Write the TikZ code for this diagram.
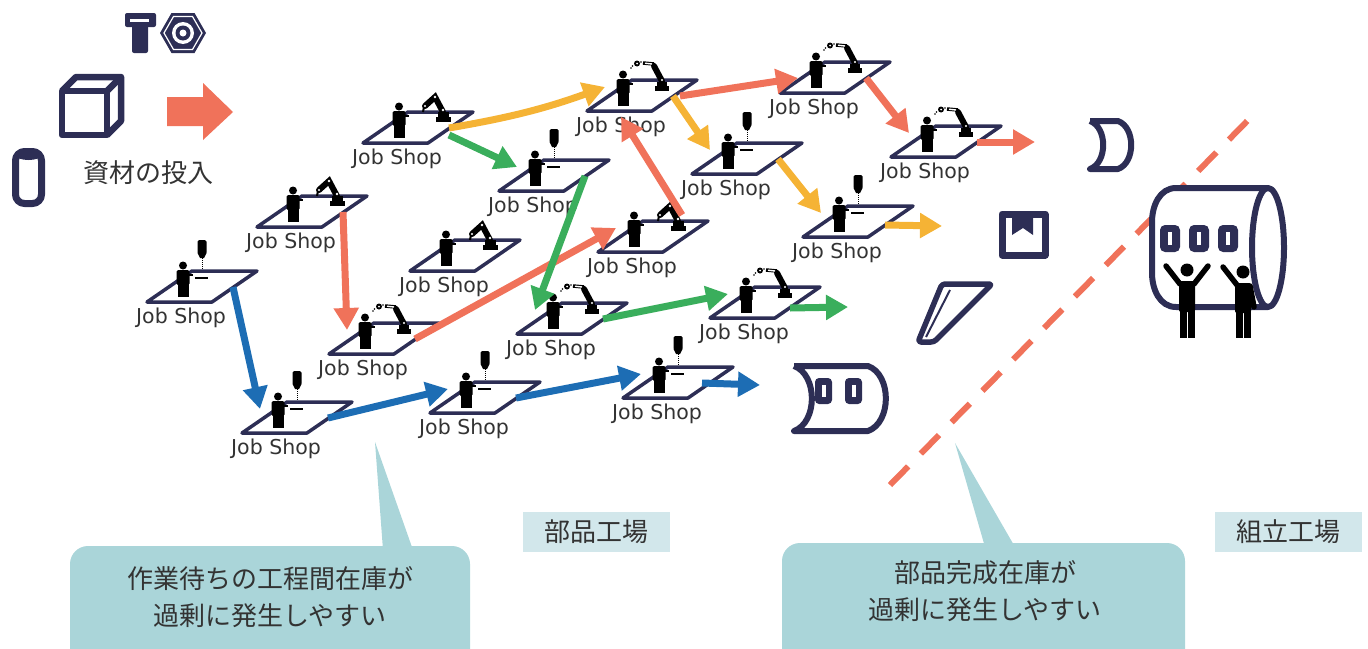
\documentclass[tikz,border=0pt]{standalone}
\usepackage{fontspec}
\setmainfont{DejaVu Sans}
\newfontfamily\jpfont{Noto Sans CJK JP}
\usetikzlibrary{arrows.meta,calc}

\definecolor{navy}{HTML}{2D2E55}
\definecolor{salmon}{HTML}{F0725A}
\definecolor{amber}{HTML}{F5B335}
\definecolor{leaf}{HTML}{3AAE5C}
\definecolor{ocean}{HTML}{1D6DB4}
\definecolor{teal}{HTML}{AAD5D9}
\definecolor{mist}{HTML}{D2E7EB}
\definecolor{ink}{HTML}{333333}

\tikzset{
  flow/.style={line width=7pt, -{Triangle[length=22pt,width=24pt]}},
  plat/.style={draw=navy, line width=3.5pt, line join=round},
  icon/.style={draw=navy, line width=6pt, line join=round},
  shoplabel/.style={font=\fontsize{20.5}{22}\selectfont, text=ink, inner sep=0pt},
  jp/.style={font=\jpfont\fontsize{26}{37}\selectfont, text=ink},
  % little worker standing on a platform
  worker/.pic={
    \fill (36,-36.5) circle (4pt);
    \fill[rounded corners=1.5pt] (29.5,-32) rectangle (42.5,-17);
    \fill (30.5,-18) rectangle (35.6,-5);
    \fill (36.4,-18) rectangle (41.5,-5);
    \fill (42,-28) rectangle (46,-26);
  },
  % spindle of a drilling machine
  drill/.pic={
    \fill[rounded corners=1.5pt] (50.5,-62) rectangle (59.5,-48);
    \fill (50.5,-49) -- (59.5,-49) -- (57,-44) -- (53,-44) -- cycle;
    \draw[line width=1pt, dash pattern=on 1pt off 1pt] (55,-44) -- (55,-32);
    \draw[line width=1.5pt] (48,-24) -- (61,-24);
  },
  % folded robot arm
  arma/.pic={
    \fill (73,-21) rectangle (88,-26);
    \fill (75,-26) rectangle (86,-31);
    \draw[line width=6pt, line cap=round] (80,-31) -- (72,-46) -- (62,-37);
    \fill[white] (80,-33) circle (1.3pt) (72,-46) circle (1.3pt) (62,-37) circle (1.1pt);
    \draw[line width=2pt] (61,-36) -- (60,-31);
  },
  % stretched robot arm with gripper
  armb/.pic={
    \fill (68,-20) rectangle (82,-25);
    \fill (70,-25) rectangle (80,-29);
    \draw[line width=6pt, line cap=round] (75,-30) -- (67,-45);
    \fill[white] (75,-31) circle (1.2pt);
    \draw[line width=3.5pt] (67,-47) -- (56,-48);
    \draw[white, line width=1.4pt] (65,-47) -- (58,-47.8);
    \fill (50,-47.5) circle (3pt);
    \fill[white] (50,-47.5) circle (1pt);
    \fill (45.5,-45) circle (0.9pt) (44,-43) circle (0.9pt) (54,-49) circle (0.9pt);
  },
  shop/.pic={
    \draw[plat] (0,0) -- (65,0) -- (110,-31) -- (45,-31) -- cycle;
    \pic {worker};
    \pic {#1};
    \coordinate (-out) at (86,-15);
    \coordinate (-in) at (18,-24);
    \coordinate (-top) at (84,-37);
    \node[shoplabel] (-lbl) at (34,16) {Job Shop};
  },
}

\begin{document}
\begin{tikzpicture}[x=1pt, y=-1pt]
  \useasboundingbox (0,0) rectangle (1368,648);

  % materials: bolt, nut, cube, cylinder
  \fill[navy, rounded corners=2pt] (125,13) rectangle (156,27);
  \fill[white] (130,19) rectangle (149,22);
  \fill[navy, rounded corners=2pt] (132,25) rectangle (148,53);
  \fill[navy] (160,33) -- (171.5,13) -- (194.5,13) -- (206,33) -- (194.5,53) -- (171.5,53) -- cycle;
  \draw[white, line width=1.2pt] (164,33) -- (173.5,16.5) -- (192.5,16.5) -- (202,33) -- (192.5,49.5) -- (173.5,49.5) -- cycle;
  \fill[white] (183,33) circle (11pt);
  \fill[navy] (183,33) circle (7.5pt);
  \fill[white] (183,33) circle (3.5pt);
  \draw[icon, line width=6.5pt] (62,91) rectangle (107,135);
  \draw[icon, line width=6.5pt] (62,91) -- (76,77) -- (121,77) -- (121,121) -- (107,135);
  \draw[icon, line width=6.5pt] (121,77) -- (107,91);
  \draw[icon, line width=7pt, rounded corners=9pt] (15.5,151.5) rectangle (41.5,203.5);
  \fill[navy] (28.5,155) ellipse (13pt and 5pt);

  % feeding arrow
  \fill[salmon] (167,97) -- (203,97) -- (203,83) -- (233,112) -- (203,140) -- (203,126) -- (167,126) -- cycle;
  \node[jp] (feed) at (148,173) {資材の投入};

  % job shops
  \pic (sA) at (363,143) {shop=arma};
  \pic (s2) at (499,191) {shop=drill};
  \pic (s3) at (587,111) {shop=armb};
  \pic (s4) at (780,93) {shop=armb};
  \pic (s5) at (692,174) {shop=drill};
  \pic (s6) at (891,157) {shop=armb};
  \pic (s7) at (803,237) {shop=drill};
  \pic (s8) at (257,227) {shop=arma};
  \pic (s9) at (410,271) {shop=arma};
  \pic (s10) at (598,252) {shop=arma};
  \pic (s11) at (147,302) {shop=drill};
  \pic (s12) at (329,354) {shop=armb};
  \pic (s13) at (517,334) {shop=armb};
  \pic (s14) at (710,318) {shop=armb};
  \pic (s15) at (242,433) {shop=drill};
  \pic (s16) at (430,413) {shop=drill};
  \pic (s17) at (623,398) {shop=drill};

  % routes between shops
  \coordinate (amberend) at (942,226);
  \coordinate (salmonend) at (1035,142);
  \coordinate (leafend) at (848,307);
  \coordinate (oceanend) at (760,385);

  \draw[flow, amber] (sA-out) to[bend right=5] (s3-in);
  \draw[flow, amber] (s3-out) -- (s5-in);
  \draw[flow, amber] (s5-out) -- (s7-in);
  \draw[flow, amber] ([xshift=-4pt, yshift=-3pt]s7-out) -- (amberend);

  \draw[flow, salmon] (s8-out) -- (s12-in);
  \draw[flow, salmon] (s12-out) -- (s10-in);
  \draw[flow, salmon] (s10-top) -- (s3-lbl.north);
  \draw[flow, salmon] ([xshift=7pt]s3-out) -- ([yshift=-9pt]s4-in);
  \draw[flow, salmon] (s4-out) -- (s6-in);
  \draw[flow, salmon] (s6-out) -- (salmonend);

  \draw[flow, leaf] ([yshift=-7pt]sA-out) -- (s2-in);
  \draw[flow, leaf] (s2-out) -- (s13-in);
  \draw[flow, leaf] (s13-out) -- (s14-in);
  \draw[flow, leaf] ([xshift=-6pt, yshift=-5pt]s14-out) -- (leafend);

  \draw[flow, ocean] (s11-out) -- (s15-in);
  \draw[flow, ocean] (s15-out) -- (s16-in);
  \draw[flow, ocean] (s16-out) -- (s17-in);
  \draw[flow, ocean] ([xshift=-7pt]s17-out) -- (oceanend);

  % finished parts
  \draw[icon] (1090,121) -- (1118,121) to[out=-20,in=20] (1118,169) -- (1090,169) to[out=20,in=-20] (1090,121);
  \draw[icon, line width=7pt] (1002,214) rectangle (1045,255);
  \fill[navy] (1012,214) -- (1033,214) -- (1033,235) -- (1023,228) -- (1012,235) -- cycle;
  \draw[icon, line width=5.5pt, rounded corners=3pt] (942,284) -- (992,284) -- (934,342) -- (918,342) -- cycle;
  \draw[navy, line width=2pt] (950,290) -- (926,337);
  \draw[icon] (794,366) -- (868,366) to[out=-20,in=20] (868,431) -- (794,431) to[out=20,in=-20] (794,366);
  \foreach \wx in {815,845} {
    \fill[navy, rounded corners=4pt] (\wx,378) rectangle ++(17,26);
    \fill[white] (\wx+6.5,385) rectangle ++(4,12);
  }

  % border between the two factories
  \draw[salmon, line width=6pt, dash pattern=on 26pt off 18pt] (890,485) -- (1258,110);

  % assembly: fuselage and workers
  \draw[icon, fill=white] (1268,188) -- (1176,188) to[out=180,in=90] (1152,222) -- (1152,273) to[out=-90,in=180] (1176,307) -- (1268,307);
  \draw[icon, fill=white] (1268,247.5) ellipse (16pt and 59.5pt);
  \foreach \wx in {1160,1189,1218} {
    \fill[navy, rounded corners=5pt] (\wx,225) rectangle ++(20,27);
    \fill[white] (\wx+8,232) rectangle ++(4,13);
  }
  \fill (1187,270) circle (6.5pt);
  \draw[line width=5.5pt, line cap=round, line join=round] (1166,266) -- (1180,284) -- (1194,284) -- (1208,266);
  \fill[rounded corners=2pt] (1179,281) rectangle (1195,312);
  \fill (1179.5,310) rectangle (1186.5,338);
  \fill (1188,310) rectangle (1194.5,338);
  \fill (1243,272) circle (6.5pt);
  \draw[line width=5.5pt, line cap=round, line join=round] (1223,267) -- (1237,285);
  \draw[line width=5.5pt, line cap=round] (1250,286) -- (1254,307);
  \fill[rounded corners=2pt] (1235,283) rectangle (1251,313);
  \fill (1235.5,310) rectangle (1242.5,338);
  \fill (1244,310) rectangle (1250.5,338);

  % call-outs
  \fill[teal, rounded corners=18pt] (70,546) rectangle (470,690);
  \fill[teal] (375,442) -- (383,550) -- (413,550) -- cycle;
  \node[jp, align=center] (note1) at (270,597) {作業待ちの工程間在庫が\\過剰に発生しやすい};
  \fill[teal, rounded corners=18pt] (782,543) rectangle (1185,690);
  \fill[teal] (955,443) -- (985,547) -- (1015,547) -- cycle;
  \node[jp, align=center] (note2) at (985,591) {部品完成在庫が\\過剰に発生しやすい};

  % factory names
  \node[jp, fill=mist, minimum width=147pt, minimum height=40pt, inner sep=0pt] (parts) at (596,532) {部品工場};
  \node[jp, fill=mist, minimum width=147pt, minimum height=40pt, inner sep=0pt] (assembly) at (1288,532) {組立工場};
\end{tikzpicture}
\end{document}
